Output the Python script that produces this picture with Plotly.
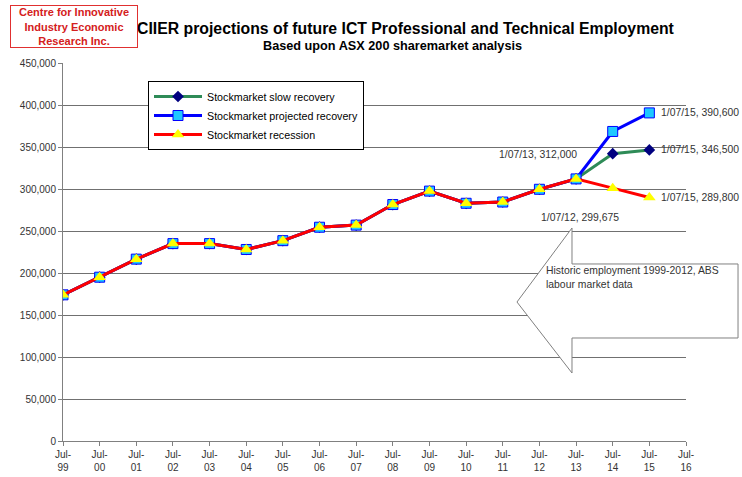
import plotly.graph_objects as go

# ---------------- data ----------------
tick_years = list(range(1999, 2017))
tick_labels = [f"Jul-<br>{y % 100:02d}" for y in tick_years]

historic_years = list(range(1999, 2014))
historic = [174000, 195000, 216500, 235000, 235000, 228000, 238500, 254500,
            257000, 281500, 297500, 283000, 284500, 299675, 312000]

proj_years = [2014, 2015]
slow_recovery = [342000, 346500]
projected_recovery = [368500, 390600]
recession = [301000, 289800]

series_names = ["Stockmarket slow recovery", "Stockmarket projected recovery", "Stockmarket recession"]

FONT = "Liberation Sans, Arial, sans-serif"

# plot area in pixels (for paper-coordinate helpers)
W, H = 742, 477
L, R, T, B = 63, 56, 63, 36
PW, PH = W - L - R, H - T - B


def px(x):
    return (x - L) / PW


def py(y):
    return (H - B - y) / PH


fig = go.Figure()

styles = [
    dict(line=dict(color="#2E8B57", width=3),
         marker=dict(symbol="diamond", size=9, color="#000080")),
    dict(line=dict(color="#0000FF", width=3),
         marker=dict(symbol="square", size=10, color="#1EC8FF", line=dict(color="#0000FF", width=1))),
    dict(line=dict(color="#FF0000", width=3),
         marker=dict(symbol="triangle-up", size=11, color="#FFFF00")),
]
for name, proj, st in zip(series_names, [slow_recovery, projected_recovery, recession], styles):
    fig.add_trace(go.Scatter(
        x=historic_years + proj_years, y=historic + proj,
        mode="lines+markers", name=name, **st))

LBL = dict(family=FONT, size=10.4, color="#333333")
annotations = []
# end labels for 2015
for proj in [slow_recovery, projected_recovery, recession]:
    annotations.append(dict(
        x=proj_years[-1], y=proj[-1], xref="x", yref="y",
        text=f"1/07/{proj_years[-1] % 100:02d}, {proj[-1]:,}",
        xanchor="left", yanchor="middle", xshift=10, showarrow=False, font=LBL))
# 2013 label
annotations.append(dict(
    x=historic_years[-1], y=historic[-1], xref="x", yref="y",
    text=f"1/07/{historic_years[-1] % 100:02d}, {historic[-1]:,}",
    xanchor="center", yanchor="middle", xshift=-38, yshift=24, showarrow=False, font=LBL))
# 2012 label
annotations.append(dict(
    x=historic_years[-2], y=historic[-2], xref="x", yref="y",
    text=f"1/07/{historic_years[-2] % 100:02d}, {historic[-2]:,}",
    xanchor="center", yanchor="middle", xshift=41, yshift=-28, showarrow=False, font=LBL))

# arrow text
annotations.append(dict(
    x=px(544), y=py(263), xref="paper", yref="paper",
    text="Historic employment 1999-2012, ABS<br>labour market data",
    xanchor="left", yanchor="top", align="left", showarrow=False, font=LBL))

# titles
annotations.append(dict(
    x=px(406), y=py(28), xref="paper", yref="paper",
    text="<b>CIIER projections of future ICT Professional and Technical Employment</b>",
    xanchor="center", yanchor="middle", showarrow=False,
    font=dict(family=FONT, size=15.8, color="#000000")))
annotations.append(dict(
    x=px(393), y=py(46.5), xref="paper", yref="paper",
    text="<b>Based upon ASX 200 sharemarket analysis</b>",
    xanchor="center", yanchor="middle", showarrow=False,
    font=dict(family=FONT, size=12.7, color="#000000")))
# logo box
annotations.append(dict(
    x=px(74), y=py(27), xref="paper", yref="paper",
    text="<b>Centre for Innovative<br>Industry Economic<br>Research Inc.</b>",
    xanchor="center", yanchor="middle", showarrow=False, align="center",
    bordercolor="#E03030", borderwidth=1, borderpad=0, bgcolor="white",
    width=126, height=41,
    font=dict(family=FONT, size=11, color="#D42020")))

arrow_pts = [(517, 302), (572, 228), (572, 264), (738, 264), (738, 338), (572, 338), (572, 373)]
path = "M " + " L ".join(f"{px(x):.4f},{py(y):.4f}" for x, y in arrow_pts) + " Z"

fig.update_layout(
    width=W, height=H,
    margin=dict(l=L, r=R, t=T, b=B, pad=0, autoexpand=False),
    paper_bgcolor="white", plot_bgcolor="white",
    font=dict(family=FONT, size=10, color="#333333"),
    showlegend=True,
    legend=dict(x=px(148), y=py(81), xanchor="left", yanchor="top",
                bgcolor="white", bordercolor="#000000", borderwidth=1,
                font=dict(family=FONT, size=10.7, color="#000000"),
                tracegroupgap=0, itemwidth=48),
    annotations=annotations,
    shapes=[dict(type="path", path=path, xref="paper", yref="paper",
                 line=dict(color="#808080", width=1), fillcolor="white", layer="above")],
    xaxis=dict(range=[tick_years[0], tick_years[-1]], tickmode="array",
               tickvals=tick_years, ticktext=tick_labels, showgrid=False,
               showline=True, linecolor="#808080", linewidth=1, automargin=False,
               ticks="outside", ticklen=4, tickcolor="#808080",
               tickfont=dict(family=FONT, size=10, color="#333333"), zeroline=False),
    yaxis=dict(range=[0, 450000], tickmode="linear", tick0=0, dtick=50000,
               tickformat=",d", showgrid=True, gridcolor="#707070", gridwidth=1,
               showline=True, linecolor="#808080", linewidth=1, automargin=False,
               ticks="outside", ticklen=4, tickcolor="#808080",
               tickfont=dict(family=FONT, size=10, color="#333333"), zeroline=False),
)

fig.write_html("out.html", config={"displayModeBar": False},
               post_script="document.body.style.margin='0';")
